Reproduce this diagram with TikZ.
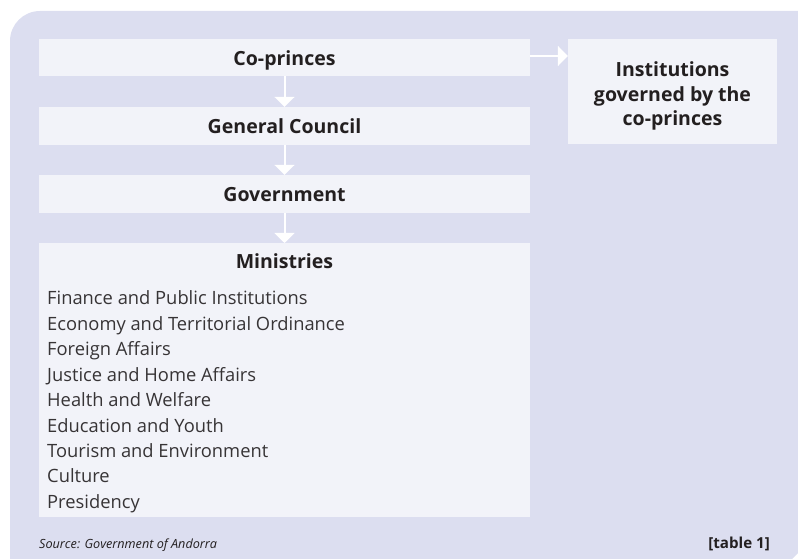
\documentclass[tikz,border=0pt]{standalone}
\usepackage{fontspec}
\setmainfont{Open Sans}
\usetikzlibrary{positioning,arrows.meta}

\definecolor{panelcol}{RGB}{220,222,240}
\definecolor{boxcol}{RGB}{242,243,249}
\definecolor{inkcol}{RGB}{35,31,32}
\definecolor{itemcol}{RGB}{55,52,54}

\tikzset{
  orgbox/.style={fill=boxcol, text=inkcol, inner sep=0bp, minimum width=491bp,
    minimum height=38bp, text height=15bp, text depth=0bp,
    font=\bfseries\fontsize{19.6}{25}\selectfont},
  itemtext/.style={text=itemcol, anchor=base west, inner sep=0bp,
    font=\fontsize{18.4}{25}\selectfont},
  flow/.style={->, draw=white, line width=2bp}
}

\begin{document}
\begin{tikzpicture}[x=1bp, y=-1bp, >={Triangle[width=20bp,length=10bp]}]
  \useasboundingbox (0,0) rectangle (798,559);
  %%
  % panel behind the chart
  \fill[panelcol] (10,559) -- (10,41) .. controls (10,24.4) and (23.4,11) .. (40,11)
    -- (798,11) -- (798,553) -- (792,559) -- cycle;
  %
  % Node: coprinces
  \node[orgbox, minimum height=37bp, text height=17bp] (coprinces) at (284.5,57.5) {Co-princes};
  % Node: council
  \node[orgbox] (council) at (284.5,126) {General Council};
  % Node: government
  \node[orgbox] (government) at (284.5,194) {Government};
  % Node: ministries
  \node[orgbox, minimum height=274bp, anchor=north] (ministries) at (284.5,243) {};
  \node[text=inkcol, anchor=base, inner sep=0bp, font=\bfseries\fontsize{19.6}{25}\selectfont]
    (minhead) at (284.5,269) {Ministries};
  \foreach \name [count=\i] in {Finance and Public Institutions,
      Economy and Territorial Ordinance, Foreign Affairs, Justice and Home Affairs,
      Health and Welfare, Education and Youth, Tourism and Environment,
      Culture, Presidency}
    \node[itemtext] (min\i) at (47,{305+25.4*(\i-1)}) {\name};
  % Node: institutions
  \node[orgbox, minimum width=209bp, minimum height=105bp] (institutions) at (672.5,91.5) {};
  \node[text=inkcol, align=center, inner sep=0bp, font=\bfseries\fontsize{19.6}{25}\selectfont]
    (insttext) at ([yshift=-4.5bp]institutions.center) {Institutions\\governed by the\\co-princes};
  %
  % Edges
  \draw[flow] (coprinces) -- (council);
  \draw[flow] (council) -- (government);
  \draw[flow] (government) -- (ministries);
  \draw[flow] ([yshift=1.5bp]coprinces.east) -- ([yshift=1.5bp]institutions.west |- coprinces.east);
  %
  % footer
  \node[text=inkcol, anchor=base west, inner sep=0bp, font=\itshape\fontsize{12.7}{15}\selectfont]
    (source) at (39,548) {Source: Government of Andorra};
  \node[text=inkcol, anchor=base east, inner sep=0bp, font=\bfseries\fontsize{15.2}{16}\selectfont]
    (tabref) at (770,548) {[table 1]};
\end{tikzpicture}
\end{document}
